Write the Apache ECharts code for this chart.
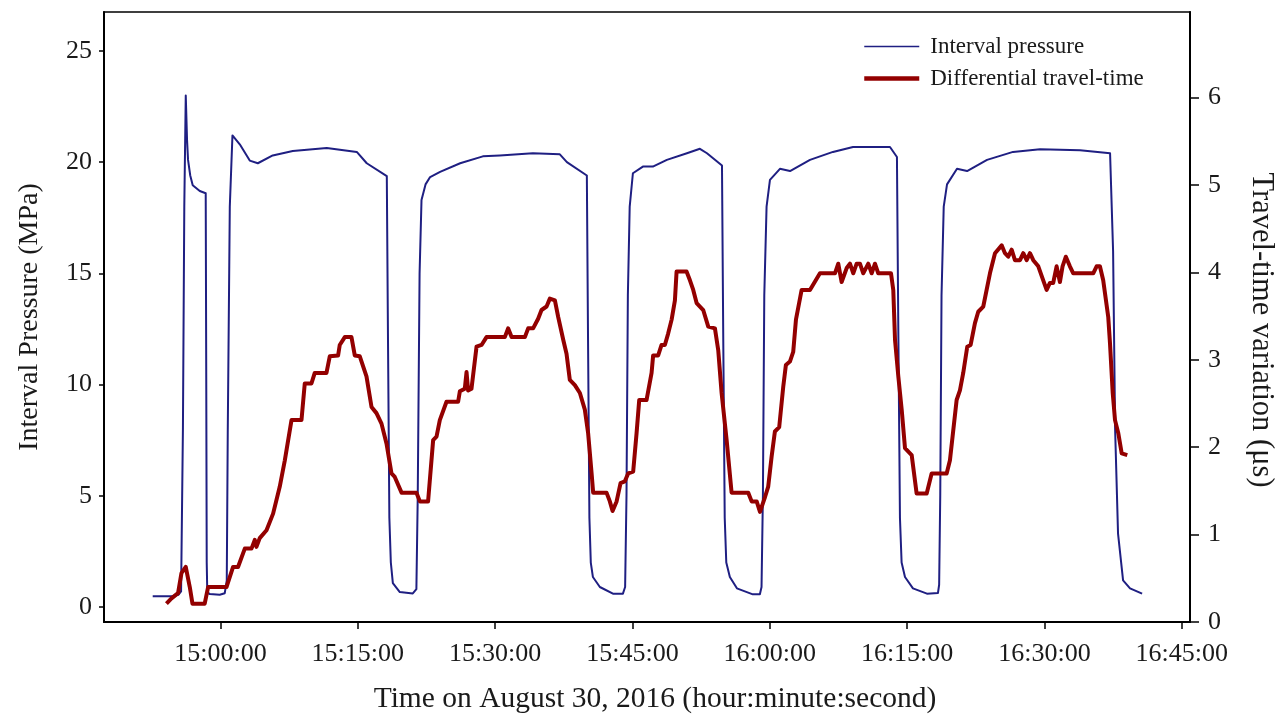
<!DOCTYPE html>
<html>
<head>
<meta charset="utf-8">
<title>Interval pressure and travel-time</title>
<script src="https://cdn.jsdelivr.net/npm/echarts@6/dist/echarts.min.js"></script>
<style>
  html, body { margin: 0; padding: 0; background: #fff; }
  #chart { width: 1285px; height: 720px; }
</style>
</head>
<body>
<div id="chart"></div>
<script>
// time is in minutes after 15:00:00
const pressureMin = [
  -7.40, -5.32, -4.60, -4.30, -4.10, -3.95, -3.79, -3.65, -3.54, -3.30, -3.03, -2.26, -1.61, -1.55, -1.50, -1.44,
  -1.17, -0.08, 0.47, 0.69, 0.80, 1.02, 1.31, 2.11, 3.20, 4.08, 5.71, 7.90, 11.61, 14.89, 15.98, 18.17,
  18.30, 18.45, 18.61, 18.83, 19.59, 21.01, 21.40, 21.55, 21.75, 21.96, 22.40, 22.90, 23.99, 26.18, 28.66, 30.52,
  34.12, 37.07, 37.84, 40.02, 40.15, 40.30, 40.45, 40.68, 41.44, 42.87, 43.96, 44.20, 44.35, 44.50, 44.70, 45.05,
  46.14, 47.23, 48.76, 50.95, 52.37, 53.14, 54.78, 54.92, 55.08, 55.25, 55.64, 56.41, 58.15, 58.92, 59.10, 59.25,
  59.40, 59.65, 60.02, 61.11, 62.21, 64.39, 66.90, 69.09, 73.13, 73.89, 74.05, 74.22, 74.40, 74.77, 75.64, 77.17,
  78.37, 78.50, 78.62, 78.76, 79.00, 79.36, 80.45, 81.55, 83.73, 86.57, 89.52, 93.89, 97.17, 97.50, 97.72, 98.04,
  98.59, 99.35, 100.67
];
const pressureMPa = [
  0.48, 0.48, 0.55, 0.7, 8, 18, 23.0, 21.0, 20.1, 19.4, 18.96, 18.7, 18.6, 10, 2, 0.67,
  0.58, 0.55, 0.62, 1.2, 8, 18, 21.2, 20.8, 20.07, 19.95, 20.3, 20.5, 20.64, 20.46, 19.95, 19.37,
  12, 4, 2.0, 1.07, 0.67, 0.61, 0.8, 5, 15, 18.3, 19.0, 19.33, 19.56, 19.95, 20.26, 20.3,
  20.4, 20.35, 20.0, 19.4, 12, 4, 2.0, 1.35, 0.9, 0.6, 0.6, 0.9, 5, 14, 18, 19.5,
  19.8, 19.8, 20.1, 20.4, 20.6, 20.4, 19.85, 12, 4, 2.0, 1.35, 0.84, 0.57, 0.57, 0.9, 5,
  14, 18, 19.2, 19.7, 19.6, 20.1, 20.46, 20.68, 20.68, 20.23, 12, 4, 2.0, 1.35, 0.84, 0.6,
  0.63, 1.0, 5, 14, 18, 19.0, 19.7, 19.6, 20.1, 20.46, 20.58, 20.53, 20.4, 16, 8, 3.3,
  1.2, 0.84, 0.6
];

const travelMin = [
  -5.90, -5.35, -4.63, -4.26, -3.79, -3.35, -3.06, -1.72, -1.35, 0.66, 1.38, 1.92, 2.66, 3.39, 3.75, 3.93,
  4.29, 5.03, 5.75, 6.48, 7.03, 7.76, 8.85, 9.21, 9.94, 10.30, 11.58, 11.94, 12.85, 13.03, 13.58, 14.31,
  14.67, 15.22, 15.95, 16.50, 17.04, 17.59, 18.14, 18.68, 19.04, 19.78, 21.41, 21.78, 22.68, 23.23, 23.60, 23.96,
  24.69, 25.96, 26.15, 26.69, 26.88, 27.05, 27.42, 27.97, 28.52, 29.06, 31.06, 31.42, 31.80, 33.25, 33.61, 34.15,
  34.70, 35.07, 35.62, 35.98, 36.53, 36.89, 37.44, 37.80, 38.16, 38.71, 39.26, 39.80, 40.16, 40.54, 40.71, 42.17,
  42.53, 42.83, 43.27, 43.70, 44.17, 44.53, 45.08, 45.45, 45.74, 46.54, 47.09, 47.26, 47.81, 48.18, 48.54, 48.90,
  49.28, 49.64, 49.82, 50.91, 51.28, 51.64, 52.01, 52.73, 53.28, 54.01, 54.37, 54.74, 55.29, 55.83, 57.65, 58.02,
  58.57, 58.93, 59.48, 59.83, 60.20, 60.56, 61.03, 61.47, 61.76, 62.20, 62.56, 62.86, 63.48, 64.39, 65.48, 67.12,
  67.48, 67.85, 68.40, 68.76, 69.12, 69.49, 69.85, 70.21, 70.76, 71.13, 71.49, 71.85, 73.24, 73.49, 73.68, 74.04,
  74.41, 74.77, 75.50, 76.04, 77.14, 77.68, 79.32, 79.68, 80.41, 80.77, 81.13, 81.57, 81.94, 82.41, 82.77, 83.32,
  84.05, 84.60, 85.33, 85.69, 86.05, 86.42, 86.78, 87.33, 87.69, 88.06, 88.42, 88.78, 89.33, 89.87, 90.24, 90.60,
  90.96, 91.33, 91.69, 91.98, 92.34, 92.78, 93.15, 95.33, 95.70, 96.06, 96.42, 96.97, 97.16, 97.46, 97.71, 98.07,
  98.44, 99.05
];
const travelUs = [
  0.21, 0.27, 0.33, 0.56, 0.63, 0.40, 0.21, 0.21, 0.40, 0.40, 0.63, 0.63, 0.84, 0.84, 0.94, 0.86,
  0.96, 1.05, 1.24, 1.55, 1.85, 2.31, 2.31, 2.73, 2.73, 2.85, 2.85, 3.04, 3.05, 3.17, 3.26, 3.26,
  3.05, 3.04, 2.81, 2.46, 2.39, 2.27, 2.04, 1.70, 1.66, 1.48, 1.48, 1.38, 1.38, 2.08, 2.12, 2.31,
  2.52, 2.52, 2.64, 2.67, 2.86, 2.65, 2.67, 3.15, 3.17, 3.26, 3.26, 3.36, 3.26, 3.26, 3.36, 3.36,
  3.47, 3.57, 3.61, 3.70, 3.68, 3.49, 3.23, 3.07, 2.77, 2.71, 2.62, 2.43, 2.16, 1.70, 1.48, 1.48,
  1.38, 1.27, 1.38, 1.59, 1.61, 1.70, 1.72, 2.16, 2.54, 2.54, 2.85, 3.05, 3.05, 3.17, 3.17, 3.30,
  3.46, 3.68, 4.01, 4.01, 3.91, 3.80, 3.65, 3.57, 3.38, 3.36, 3.11, 2.62, 2.08, 1.48, 1.48, 1.38,
  1.38, 1.26, 1.43, 1.55, 1.89, 2.18, 2.23, 2.69, 2.94, 2.98, 3.09, 3.46, 3.80, 3.80, 3.99, 3.99,
  4.10, 3.89, 4.05, 4.10, 3.99, 4.10, 4.10, 3.99, 4.10, 3.99, 4.10, 3.99, 3.99, 3.80, 3.23, 2.81,
  2.43, 1.99, 1.91, 1.47, 1.47, 1.70, 1.70, 1.85, 2.54, 2.65, 2.85, 3.15, 3.17, 3.42, 3.55, 3.61,
  3.99, 4.22, 4.31, 4.22, 4.18, 4.26, 4.14, 4.14, 4.22, 4.14, 4.22, 4.14, 4.07, 3.91, 3.80, 3.88,
  3.88, 4.07, 3.89, 4.07, 4.18, 4.07, 3.99, 3.99, 4.07, 4.07, 3.91, 3.49, 3.19, 2.62, 2.31, 2.16,
  1.93, 1.91
];

const timeTicks = ['15:00:00', '15:15:00', '15:30:00', '15:45:00', '16:00:00', '16:15:00', '16:30:00', '16:45:00'];
const pressureTicks = [0, 5, 10, 15, 20, 25];
const travelTicks = [0, 1, 2, 3, 4, 5, 6];

const font = "'Liberation Serif', 'Times New Roman', serif";
const textColor = '#1a1a1a';
const blue = '#1f1f82';
const red = '#930000';

const chart = echarts.init(document.getElementById('chart'));

const option = {
  animation: false,
  grid: {
    left: 104,
    right: 95,
    top: 12,
    bottom: 98,
    show: true,
    borderColor: '#000',
    borderWidth: 1.5
  },
  legend: {
    orient: 'vertical',
    left: 857,
    top: 30,
    itemWidth: 55,
    itemHeight: 14,
    itemGap: 9,
    itemStyle: { opacity: 0 },
    textStyle: { fontFamily: font, fontSize: 23, color: textColor, padding: [0, 0, 0, 6] },
    data: [
      { name: 'Interval pressure', lineStyle: { width: 1.5 } },
      { name: 'Differential travel-time', lineStyle: { width: 4.5 } }
    ]
  },
  xAxis: {
    type: 'value',
    min: -12.72,
    max: 105.9,
    name: 'Time on August 30, 2016 (hour:minute:second)',
    nameLocation: 'middle',
    nameGap: 62,
    nameTextStyle: { fontFamily: font, fontSize: 29.5, color: textColor, padding: [0, 0, 0, 16] },
    axisLine: { onZero: false, lineStyle: { color: '#000', width: 2 } },
    axisTick: { show: true, length: 7, lineStyle: { color: '#000', width: 1.5 }, customValues: timeTicks.map((t, i) => i * 15) },
    axisLabel: {
      fontFamily: font, fontSize: 26, color: textColor, margin: 19,
      customValues: timeTicks.map((t, i) => i * 15),
      formatter: (v) => timeTicks[Math.round(v / 15)]
    },
    splitLine: { show: false }
  },
  yAxis: [
    {
      type: 'value',
      min: -0.674,
      max: 26.75,
      position: 'left',
      name: 'Interval Pressure (MPa)',
      nameLocation: 'middle',
      nameGap: 60,
      nameTextStyle: { fontFamily: font, fontSize: 28, color: textColor },
      axisLine: { show: true, onZero: false, lineStyle: { color: '#000', width: 2 } },
      axisTick: { show: true, length: 5, lineStyle: { color: '#000', width: 1.5 }, customValues: pressureTicks },
      axisLabel: { fontFamily: font, fontSize: 26, color: textColor, margin: 12, customValues: pressureTicks },
      splitLine: { show: false }
    },
    {
      type: 'value',
      min: 0,
      max: 6.98,
      position: 'right',
      name: 'Travel-time variation (μs)',
      nameLocation: 'middle',
      nameRotate: -90,
      nameGap: 56,
      nameTextStyle: { fontFamily: font, fontSize: 30.5, color: textColor, padding: [0, 0, 0, 26] },
      axisLine: { show: true, onZero: false, lineStyle: { color: '#000', width: 2 } },
      axisTick: { show: true, length: 9, lineStyle: { color: '#000', width: 1.5 }, customValues: travelTicks },
      axisLabel: { fontFamily: font, fontSize: 26, color: textColor, margin: 18, customValues: travelTicks },
      splitLine: { show: false }
    }
  ],
  series: [
    {
      name: 'Interval pressure',
      type: 'line',
      yAxisIndex: 0,
      symbol: 'none',
      lineStyle: { color: blue, width: 2, join: 'round' },
      itemStyle: { color: blue },
      data: pressureMin.map((m, i) => [m, pressureMPa[i]])
    },
    {
      name: 'Differential travel-time',
      type: 'line',
      yAxisIndex: 1,
      symbol: 'none',
      lineStyle: { color: red, width: 4, join: 'round' },
      itemStyle: { color: red },
      data: travelMin.map((m, i) => [m, travelUs[i]])
    }
  ]
};

chart.setOption(option);
</script>
</body>
</html>
